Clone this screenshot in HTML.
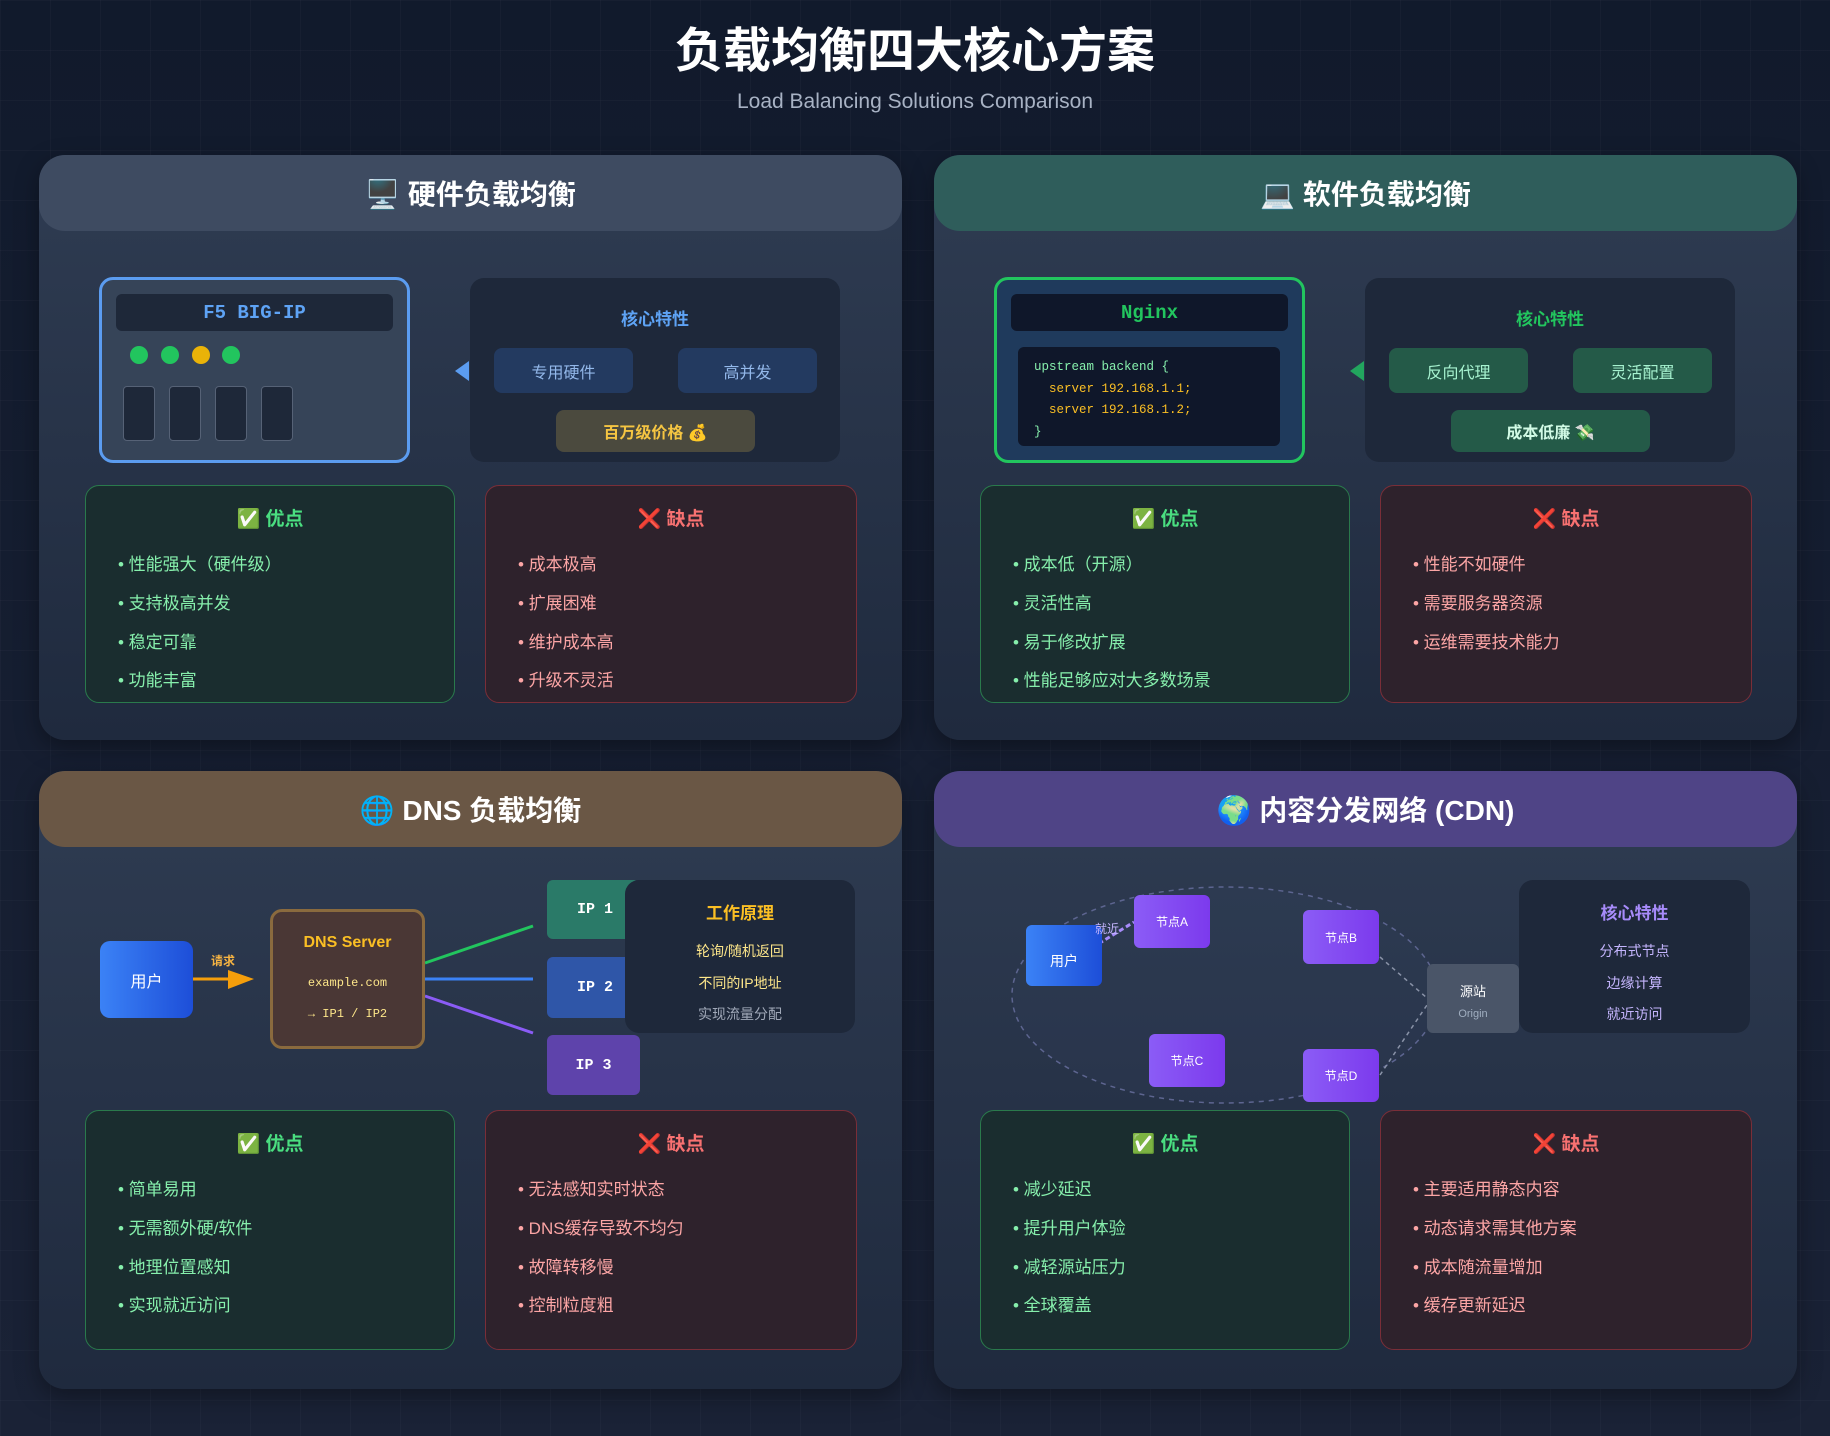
<!DOCTYPE html>
<html><head><meta charset="utf-8"><style>
*{margin:0;padding:0;box-sizing:border-box}
body{width:1830px;height:1436px;background:#141b2d;position:relative;overflow:hidden;font-family:"Liberation Sans","Noto Sans CJK SC",sans-serif;color:#fff;
background-image:linear-gradient(rgba(255,255,255,0.025) 1px,transparent 1px),linear-gradient(90deg,rgba(255,255,255,0.025) 1px,transparent 1px),linear-gradient(180deg,#111a2c,#1a2236);
background-size:50px 50px,50px 50px,100% 100%}
.a{position:absolute}
.c{display:flex;align-items:center;justify-content:center;text-align:center}
.panel{position:absolute;border-radius:26px;background:linear-gradient(180deg,#2f3c52,#1f2a3e);box-shadow:0 8px 24px rgba(0,0,0,.35);overflow:hidden}
.hd{position:absolute;left:0;top:0;right:0;height:76px;border-radius:26px;font-size:28px;font-weight:bold;display:flex;align-items:center;justify-content:center}
.pros{position:absolute;border:1.5px solid #2a7a4c;background:#1a2d2f;border-radius:14px}
.cons{position:absolute;border:1.5px solid #7a2e38;background:#2e222c;border-radius:14px}
.pt{position:absolute;left:0;right:0;top:18px;text-align:center;font-size:19px;font-weight:bold}
.li{position:absolute;left:32px;font-size:17px;margin-top:-4px}
.mono{font-family:"Liberation Mono","Noto Sans CJK SC",monospace}
.btn{position:absolute;border-radius:8px;font-size:16px;display:flex;align-items:center;justify-content:center}
</style></head><body>
<div class="a c" style="left:0;width:1830px;top:16px;height:60px;font-size:48px;font-weight:bold">负载均衡四大核心方案</div>
<div class="a c" style="left:0;width:1830px;top:88px;height:28px;font-size:21px;color:#a8b2c4">Load Balancing Solutions Comparison</div>

<!-- Panel 1 hardware -->
<div class="panel" style="left:39px;top:155px;width:863px;height:585px">
 <div class="hd" style="background:#3e4b61">🖥️ 硬件负载均衡</div>
</div>
<div class="a" style="left:99px;top:277px;width:311px;height:186px;border:3px solid #5b9cf0;border-radius:14px;background:#364458"></div>
<div class="a c mono" style="left:116px;top:294px;width:277px;height:37px;background:#1e2839;border-radius:6px;color:#5ea3f5;font-size:19px;font-weight:bold">F5 BIG-IP</div>
<div class="a" style="left:130px;top:346px;width:18px;height:18px;border-radius:50%;background:#22c55e"></div>
<div class="a" style="left:161px;top:346px;width:18px;height:18px;border-radius:50%;background:#22c55e"></div>
<div class="a" style="left:192px;top:346px;width:18px;height:18px;border-radius:50%;background:#eab308"></div>
<div class="a" style="left:222px;top:346px;width:18px;height:18px;border-radius:50%;background:#22c55e"></div>
<div class="a" style="left:123px;top:386px;width:32px;height:55px;border:1.5px solid #566276;border-radius:4px;background:#1e2839"></div>
<div class="a" style="left:169px;top:386px;width:32px;height:55px;border:1.5px solid #566276;border-radius:4px;background:#1e2839"></div>
<div class="a" style="left:215px;top:386px;width:32px;height:55px;border:1.5px solid #566276;border-radius:4px;background:#1e2839"></div>
<div class="a" style="left:261px;top:386px;width:32px;height:55px;border:1.5px solid #566276;border-radius:4px;background:#1e2839"></div>
<div class="a" style="left:455px;top:361px;width:0;height:0;border-top:10px solid transparent;border-bottom:10px solid transparent;border-right:14px solid #5b9cf0"></div>
<div class="a" style="left:470px;top:278px;width:370px;height:184px;background:#1e283a;border-radius:14px"></div>
<div class="a c" style="left:470px;top:304px;width:370px;height:26px;color:#5ea3f5;font-size:17px;font-weight:bold">核心特性</div>
<div class="btn" style="left:494px;top:348px;width:139px;height:45px;background:#233a60;color:#93b8ea">专用硬件</div>
<div class="btn" style="left:678px;top:348px;width:139px;height:45px;background:#233a60;color:#93b8ea">高并发</div>
<div class="btn" style="left:556px;top:410px;width:199px;height:42px;background:#4b4a3e;color:#f5c542;font-weight:bold">百万级价格 💰</div>
<div class="pros" style="left:85px;top:485px;width:370px;height:218px"><div class="pt" style="color:#4ade80">✅ 优点</div>
 <div class="li" style="top:68px;color:#86efac">• 性能强大（硬件级）</div><div class="li" style="top:107px;color:#86efac">• 支持极高并发</div><div class="li" style="top:146px;color:#86efac">• 稳定可靠</div><div class="li" style="top:184px;color:#86efac">• 功能丰富</div></div>
<div class="cons" style="left:485px;top:485px;width:372px;height:218px"><div class="pt" style="color:#f87171">❌ 缺点</div>
 <div class="li" style="top:68px;color:#fca5a5">• 成本极高</div><div class="li" style="top:107px;color:#fca5a5">• 扩展困难</div><div class="li" style="top:146px;color:#fca5a5">• 维护成本高</div><div class="li" style="top:184px;color:#fca5a5">• 升级不灵活</div></div>

<!-- Panel 2 software -->
<div class="panel" style="left:934px;top:155px;width:863px;height:585px">
 <div class="hd" style="background:#2f5d5b">💻 软件负载均衡</div>
</div>
<div class="a" style="left:994px;top:277px;width:311px;height:186px;border:3px solid #22c55e;border-radius:14px;background:#1f3a5c"></div>
<div class="a c mono" style="left:1011px;top:294px;width:277px;height:37px;background:#0f172a;border-radius:6px;color:#22c55e;font-size:19px;font-weight:bold">Nginx</div>
<div class="a mono" style="left:1018px;top:347px;width:262px;height:99px;background:#0f172a;border-radius:6px;font-size:12.5px;line-height:21.5px;padding:10px 0 0 16px;color:#86efac">upstream backend {<br><span style="color:#fbbf24">&nbsp;&nbsp;server 192.168.1.1;</span><br><span style="color:#fbbf24">&nbsp;&nbsp;server 192.168.1.2;</span><br>}</div>
<div class="a" style="left:1350px;top:361px;width:0;height:0;border-top:10px solid transparent;border-bottom:10px solid transparent;border-right:14px solid #22a55e"></div>
<div class="a" style="left:1365px;top:278px;width:370px;height:184px;background:#1e283a;border-radius:14px"></div>
<div class="a c" style="left:1365px;top:304px;width:370px;height:26px;color:#22c55e;font-size:17px;font-weight:bold">核心特性</div>
<div class="btn" style="left:1389px;top:348px;width:139px;height:45px;background:#245a48;color:#a7f3d0">反向代理</div>
<div class="btn" style="left:1573px;top:348px;width:139px;height:45px;background:#245a48;color:#a7f3d0">灵活配置</div>
<div class="btn" style="left:1451px;top:410px;width:199px;height:42px;background:#245a48;color:#d1fae5;font-weight:bold">成本低廉 💸</div>
<div class="pros" style="left:980px;top:485px;width:370px;height:218px"><div class="pt" style="color:#4ade80">✅ 优点</div>
 <div class="li" style="top:68px;color:#86efac">• 成本低（开源）</div><div class="li" style="top:107px;color:#86efac">• 灵活性高</div><div class="li" style="top:146px;color:#86efac">• 易于修改扩展</div><div class="li" style="top:184px;color:#86efac">• 性能足够应对大多数场景</div></div>
<div class="cons" style="left:1380px;top:485px;width:372px;height:218px"><div class="pt" style="color:#f87171">❌ 缺点</div>
 <div class="li" style="top:68px;color:#fca5a5">• 性能不如硬件</div><div class="li" style="top:107px;color:#fca5a5">• 需要服务器资源</div><div class="li" style="top:146px;color:#fca5a5">• 运维需要技术能力</div></div>

<!-- Panel 3 DNS -->
<div class="panel" style="left:39px;top:771px;width:863px;height:618px">
 <div class="hd" style="background:#6a5745">🌐 DNS 负载均衡</div>
</div>
<svg class="a" style="left:0;top:0" width="1830" height="1436">
 <line x1="425" y1="963" x2="533" y2="926" stroke="#22c55e" stroke-width="3"/>
 <line x1="425" y1="979" x2="533" y2="979" stroke="#3b82f6" stroke-width="3"/>
 <line x1="425" y1="996" x2="533" y2="1033" stroke="#8b5cf6" stroke-width="3"/>
 <line x1="193" y1="979" x2="232" y2="979" stroke="#f59e0b" stroke-width="3"/>
 <polygon points="228,970 254,979 228,989" fill="#f59e0b"/>
 <ellipse cx="1225" cy="995" rx="213" ry="108" fill="rgba(60,70,110,0.12)" stroke="#5d6590" stroke-width="1.5" stroke-dasharray="5,5"/>
 <line x1="1380" y1="957" x2="1427" y2="998" stroke="#8a93a8" stroke-width="1.5" stroke-dasharray="4,4"/>
 <line x1="1380" y1="1075" x2="1427" y2="1005" stroke="#8a93a8" stroke-width="1.5" stroke-dasharray="4,4"/>
 <line x1="1085" y1="952" x2="1134" y2="922" stroke="#a78bfa" stroke-width="3" stroke-dasharray="5,3"/>
</svg>
<div class="a c" style="left:100px;top:941px;width:93px;height:77px;border-radius:10px;background:linear-gradient(90deg,#3b82f6,#1d4ed8);font-size:16px">用户</div>
<div class="a c" style="left:208px;top:950px;width:30px;height:20px;font-size:12px;color:#f5b342;font-weight:bold">请求</div>
<div class="a" style="left:270px;top:909px;width:155px;height:140px;border:3px solid #8a6a3e;border-radius:12px;background:#4a3735"></div>
<div class="a c" style="left:270px;top:930px;width:155px;height:26px;color:#fbbf24;font-size:16px;font-weight:bold">DNS Server</div>
<div class="a c mono" style="left:270px;top:973px;width:155px;height:20px;color:#fde68a;font-size:12px">example.com</div>
<div class="a c mono" style="left:270px;top:1004px;width:155px;height:20px;color:#fde68a;font-size:12px">→ IP1 / IP2</div>
<div class="a c mono" style="left:547px;top:880px;width:93px;height:59px;border-radius:6px;background:#2a7a68;font-size:15px;font-weight:bold;justify-content:flex-start;padding-left:30px">IP 1</div>
<div class="a c mono" style="left:547px;top:957px;width:93px;height:61px;border-radius:6px;background:#2f56a8;font-size:15px;font-weight:bold;justify-content:flex-start;padding-left:30px">IP 2</div>
<div class="a c mono" style="left:547px;top:1035px;width:93px;height:60px;border-radius:6px;background:#5e43ab;font-size:15px;font-weight:bold">IP 3</div>
<div class="a" style="left:625px;top:880px;width:230px;height:153px;border-radius:14px;background:#1e283a"></div>
<div class="a c" style="left:625px;top:898px;width:230px;height:26px;color:#fbbf24;font-size:17px;font-weight:bold">工作原理</div>
<div class="a c" style="left:625px;top:941px;width:230px;height:20px;color:#fde68a;font-size:14px">轮询/随机返回</div>
<div class="a c" style="left:625px;top:973px;width:230px;height:20px;color:#fde68a;font-size:14px">不同的IP地址</div>
<div class="a c" style="left:625px;top:1004px;width:230px;height:20px;color:#a0a8b8;font-size:14px">实现流量分配</div>
<div class="pros" style="left:85px;top:1110px;width:370px;height:240px"><div class="pt" style="color:#4ade80">✅ 优点</div>
 <div class="li" style="top:68px;color:#86efac">• 简单易用</div><div class="li" style="top:107px;color:#86efac">• 无需额外硬/软件</div><div class="li" style="top:146px;color:#86efac">• 地理位置感知</div><div class="li" style="top:184px;color:#86efac">• 实现就近访问</div></div>
<div class="cons" style="left:485px;top:1110px;width:372px;height:240px"><div class="pt" style="color:#f87171">❌ 缺点</div>
 <div class="li" style="top:68px;color:#fca5a5">• 无法感知实时状态</div><div class="li" style="top:107px;color:#fca5a5">• DNS缓存导致不均匀</div><div class="li" style="top:146px;color:#fca5a5">• 故障转移慢</div><div class="li" style="top:184px;color:#fca5a5">• 控制粒度粗</div></div>

<!-- Panel 4 CDN -->
<div class="panel" style="left:934px;top:771px;width:863px;height:618px;z-index:-1">
 <div class="hd" style="background:#4f4486">🌍 内容分发网络 (CDN)</div>
</div>
<div class="a c" style="left:1026px;top:925px;width:76px;height:61px;border-radius:6px;background:linear-gradient(90deg,#3b82f6,#1d4ed8);font-size:14px;padding-top:10px">用户</div>
<div class="a" style="left:1095px;top:920px;font-size:12px;color:#c4b5fd">就近</div>
<div class="a c" style="left:1134px;top:895px;width:76px;height:53px;border-radius:6px;background:linear-gradient(90deg,#8b5cf6,#7c3aed);font-size:12px">节点A</div>
<div class="a c" style="left:1303px;top:910px;width:76px;height:54px;border-radius:6px;background:linear-gradient(90deg,#8b5cf6,#7c3aed);font-size:12px">节点B</div>
<div class="a c" style="left:1149px;top:1034px;width:76px;height:53px;border-radius:6px;background:linear-gradient(90deg,#8b5cf6,#7c3aed);font-size:12px">节点C</div>
<div class="a c" style="left:1303px;top:1049px;width:76px;height:53px;border-radius:6px;background:linear-gradient(90deg,#8b5cf6,#7c3aed);font-size:12px">节点D</div>
<div class="a" style="left:1427px;top:964px;width:92px;height:69px;border-radius:6px;background:#4a5568"></div>
<div class="a c" style="left:1427px;top:981px;width:92px;height:18px;font-size:13px">源站</div>
<div class="a c" style="left:1427px;top:1006px;width:92px;height:16px;font-size:11px;color:#a0aec0">Origin</div>
<div class="a" style="left:1519px;top:880px;width:231px;height:153px;border-radius:14px;background:#1e283a"></div>
<div class="a c" style="left:1519px;top:898px;width:231px;height:26px;color:#a78bfa;font-size:17px;font-weight:bold">核心特性</div>
<div class="a c" style="left:1519px;top:941px;width:231px;height:20px;color:#c4b5fd;font-size:14px">分布式节点</div>
<div class="a c" style="left:1519px;top:973px;width:231px;height:20px;color:#c4b5fd;font-size:14px">边缘计算</div>
<div class="a c" style="left:1519px;top:1004px;width:231px;height:20px;color:#c4b5fd;font-size:14px">就近访问</div>
<div class="pros" style="left:980px;top:1110px;width:370px;height:240px"><div class="pt" style="color:#4ade80">✅ 优点</div>
 <div class="li" style="top:68px;color:#86efac">• 减少延迟</div><div class="li" style="top:107px;color:#86efac">• 提升用户体验</div><div class="li" style="top:146px;color:#86efac">• 减轻源站压力</div><div class="li" style="top:184px;color:#86efac">• 全球覆盖</div></div>
<div class="cons" style="left:1380px;top:1110px;width:372px;height:240px"><div class="pt" style="color:#f87171">❌ 缺点</div>
 <div class="li" style="top:68px;color:#fca5a5">• 主要适用静态内容</div><div class="li" style="top:107px;color:#fca5a5">• 动态请求需其他方案</div><div class="li" style="top:146px;color:#fca5a5">• 成本随流量增加</div><div class="li" style="top:184px;color:#fca5a5">• 缓存更新延迟</div></div>
</body></html>
